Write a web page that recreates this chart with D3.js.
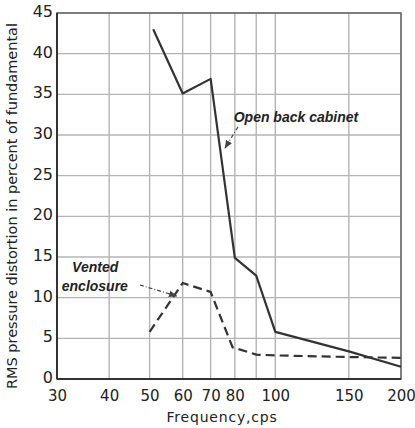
<!DOCTYPE html>
<html>
<head>
<meta charset="utf-8">
<script src="https://cdn.jsdelivr.net/npm/d3@7"></script>
<style>
  body { margin: 0; background: #fff; }
  svg { display: block; }
</style>
</head>
<body>
<div class="chart_container"></div>
<script>
// data
const freqGrid = [30, 40, 50, 60, 70, 80, 90, 100, 150, 200]
const freqLabels = [30, 40, 50, 60, 70, 80, 100, 150, 200]
const distTicks = [0, 5, 10, 15, 20, 25, 30, 35, 40, 45]

const openFreq = [51, 60, 70, 80, 90, 100, 150, 200]
const openDist = [43, 35.1, 36.9, 14.9, 12.7, 5.8, 3.4, 1.5]

const ventFreq = [50, 60, 70, 79, 90, 100, 150, 200]
const ventDist = [5.8, 11.8, 10.7, 3.9, 3.0, 2.9, 2.7, 2.6]

const svg_width = 415
const svg_height = 428
const margin = { top: 13, left: 57, right: 14, bottom: 49 }
const chart_width = svg_width - margin.left - margin.right
const chart_height = svg_height - margin.top - margin.bottom

const svg = d3.select('.chart_container').append('svg')
  .attr('width', svg_width).attr('height', svg_height)

const defs = svg.append('defs')
defs.append('marker').attr('id', 'arrow')
  .attr('viewBox', '0 0 10 10').attr('refX', 9).attr('refY', 5)
  .attr('markerWidth', 7).attr('markerHeight', 7).attr('orient', 'auto')
  .append('path').attr('d', 'M0,1 L10,5 L0,9 Z').attr('fill', '#444')

const g = svg.append('g').attr('transform', `translate(${margin.left},${margin.top})`)

const xScale = d3.scaleLog().domain([30, 200]).range([0, chart_width])
const yScale = d3.scaleLinear().domain([0, 45]).range([chart_height, 0])

// grid
g.append('g').selectAll('line').data(freqGrid).join('line')
  .attr('x1', d => xScale(d)).attr('x2', d => xScale(d))
  .attr('y1', 0).attr('y2', chart_height)
  .style('stroke', '#b4b4b4').style('stroke-width', 1.4)
g.append('g').selectAll('line').data(distTicks).join('line')
  .attr('x1', 0).attr('x2', chart_width)
  .attr('y1', d => yScale(d)).attr('y2', d => yScale(d))
  .style('stroke', '#b4b4b4').style('stroke-width', 1.4)

// frame
g.append('rect').attr('x', 0).attr('y', 0)
  .attr('width', chart_width).attr('height', chart_height)
  .style('fill', 'none').style('stroke', '#666').style('stroke-width', 1.5)
g.append('line').attr('x1', 0).attr('x2', 0).attr('y1', 0).attr('y2', chart_height)
  .style('stroke', '#333').style('stroke-width', 2)
g.append('line').attr('x1', 0).attr('x2', chart_width).attr('y1', chart_height).attr('y2', chart_height)
  .style('stroke', '#333').style('stroke-width', 2)

// axes (labels only)
const xAxis = d3.axisBottom(xScale).tickValues(freqLabels).tickFormat(d3.format('d'))
  .tickSize(0).tickPadding(11)
const xAxisDraw = g.append('g').attr('transform', `translate(0,${chart_height})`).call(xAxis)
xAxisDraw.select('.domain').remove()
xAxisDraw.selectAll('text').style('font-family', 'DejaVu Sans').style('font-size', '15px')
  .style('fill', '#222')

const yAxis = d3.axisLeft(yScale).tickValues(distTicks).tickSize(0).tickPadding(4)
const yAxisDraw = g.append('g').call(yAxis)
yAxisDraw.select('.domain').remove()
yAxisDraw.selectAll('text').style('font-family', 'DejaVu Sans').style('font-size', '16px')
  .style('fill', '#222').attr('dy', '0.22em')

// lines
const line = d3.line().x(d => xScale(d[0])).y(d => yScale(d[1]))
g.append('path').datum(d3.zip(openFreq, openDist)).attr('d', line)
  .style('fill', 'none').style('stroke', '#333').style('stroke-width', 2.2)
  .style('stroke-linejoin', 'round')
g.append('path').datum(d3.zip(ventFreq, ventDist)).attr('d', line)
  .style('fill', 'none').style('stroke', '#333').style('stroke-width', 2.2)
  .style('stroke-dasharray', '9,5')

// annotations
const annot = g.append('g').style('font-family', 'Liberation Sans')
  .style('font-style', 'italic').style('font-weight', 'bold')
  .style('font-size', '14px').style('fill', '#222')
annot.append('text').attr('x', xScale(79.5)).attr('y', yScale(31.6)).text('Open back cabinet')
annot.append('text').attr('x', xScale(32.6)).attr('y', yScale(13.2)).text('Vented')
annot.append('text').attr('x', xScale(30.8)).attr('y', yScale(10.8)).text('enclosure')

g.append('line')
  .attr('x1', xScale(81.4)).attr('y1', yScale(31.0))
  .attr('x2', xScale(75.8)).attr('y2', yScale(28.4))
  .style('stroke', '#444').style('stroke-width', 1.2).style('stroke-dasharray', '4,2,1,2')
  .attr('marker-end', 'url(#arrow)')
g.append('line')
  .attr('x1', xScale(47.4)).attr('y1', yScale(11.56))
  .attr('x2', xScale(58)).attr('y2', yScale(10.2))
  .style('stroke', '#444').style('stroke-width', 1.2).style('stroke-dasharray', '4,2,1,2')
  .attr('marker-end', 'url(#arrow)')

// axis titles
svg.append('text')
  .attr('transform', `translate(17,${margin.top + chart_height / 2 + 10}) rotate(-90)`)
  .attr('text-anchor', 'middle')
  .attr('textLength', 366).attr('lengthAdjust', 'spacingAndGlyphs')
  .style('font-family', 'DejaVu Sans').style('font-size', '14px').style('fill', '#222')
  .text('RMS pressure distortion in percent of fundamental')

svg.append('text')
  .attr('x', 222).attr('y', 422).attr('text-anchor', 'middle')
  .style('font-family', 'DejaVu Sans').style('font-size', '14px').style('fill', '#222')
  .style('letter-spacing', '0.8px')
  .text('Frequency,cps')
</script>
</body>
</html>
